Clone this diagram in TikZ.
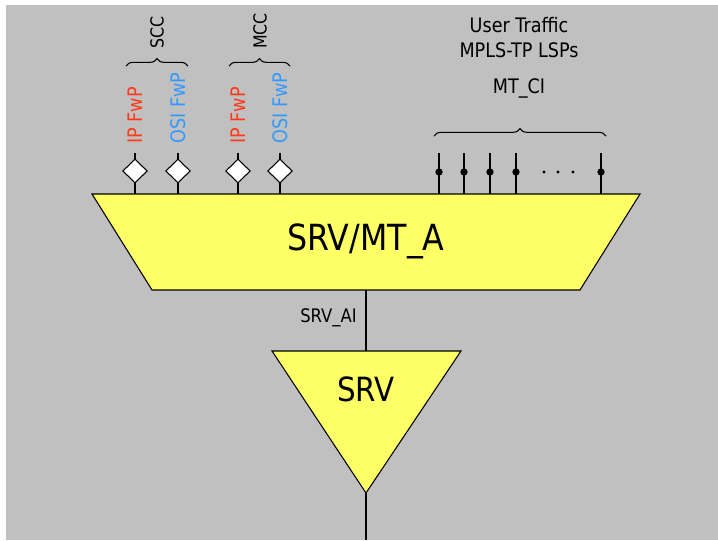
\documentclass[tikz,border=0pt]{standalone}
\usepackage{fontspec}
\setmainfont{DejaVu Sans}[FakeStretch=0.88]
\usetikzlibrary{shapes.geometric,decorations.pathreplacing}
\definecolor{bg}{HTML}{C0C0C0}
\definecolor{boxfill}{HTML}{FFFF66}
\definecolor{ipred}{HTML}{FF3A1A}
\definecolor{osiblue}{HTML}{3399FF}
\tikzset{
  px/.style={x=0.75pt,y=-0.75pt},
  ln/.style={draw=black,line width=0.8pt},
  fw/.style={rotate=90,anchor=west,inner sep=0pt,font=\fontsize{15}{17}\selectfont},
  dia/.style={diamond,draw=black,fill=white,line width=0.8pt,minimum width=18.5pt,minimum height=18pt,inner sep=0pt},
  brc/.style={ln,decorate,decoration={brace,amplitude=5.5pt}},
  lbl/.style={inner sep=0pt,font=\fontsize{15}{17}\selectfont},
  pindot/.style={circle,fill=black,inner sep=0pt,minimum size=5.5pt},
}
\begin{document}
\begin{tikzpicture}[px]
\useasboundingbox (0,0) rectangle (718,540);
\fill[white] (0,0) rectangle (718,540);
\fill[bg] (6,5) rectangle (718,540);
% trapezoid
\draw[ln,fill=boxfill] (92,194) -- (640,194) -- (580,290) -- (152,290) -- cycle;
\node[inner sep=0pt,font=\fontsize{27}{30}\selectfont] (mta) at (366,241) {SRV/MT\_A};
\coordinate (mtabot) at (366,290);
% SRV triangle
\draw[ln,fill=boxfill] (272,351) -- (461,351) -- (366,493) -- cycle;
\node[inner sep=0pt,font=\fontsize{25}{28}\selectfont] (srv) at (366,389) {SRV};
\coordinate (srvtop) at (366,351);
\coordinate (srvapex) at (366,493);
\coordinate (bottom) at (366,540);
\draw[ln] (mtabot) -- (srvtop);
\draw[ln] (srvapex) -- (bottom);
\node[lbl,anchor=east,font=\fontsize{14}{16}\selectfont] (ai) at (357,318) {SRV\_AI};
% diamonds
\foreach \x/\n in {135/a,178/b,238/c,280/d}{
  \coordinate (t\n) at (\x,153);
  \coordinate (b\n) at (\x,194);
  \draw[ln] (t\n) -- (b\n);
  \node[dia] (d\n) at (\x,171) {};
}
\node[fw,text=ipred] (ipa) at (135,144) {IP FwP};
\node[fw,text=osiblue] (osia) at (178,144) {OSI FwP};
\node[fw,text=ipred] (ipb) at (238,144) {IP FwP};
\node[fw,text=osiblue] (osib) at (280,144) {OSI FwP};
% braces
\coordinate (s1) at (126,66); \coordinate (s2) at (188,66);
\draw[brc] (s1) -- (s2);
\node[fw,text=black,font=\fontsize{13.5}{16}\selectfont] (scc) at (157,49) {SCC};
\coordinate (m1) at (229,66); \coordinate (m2) at (290,66);
\draw[brc] (m1) -- (m2);
\node[fw,text=black,font=\fontsize{13.5}{16}\selectfont] (mcc) at (260,49) {MCC};
% pins
\foreach \x/\n in {439/p,464/q,490/r,516/s,601/t}{
  \coordinate (t\n) at (\x,153);
  \coordinate (b\n) at (\x,194);
  \draw[ln] (t\n) -- (b\n);
  \node[pindot] (c\n) at (\x,172) {};
}
\foreach \x/\n in {544/u,558/v,573/w}{
  \node[circle,fill=black,inner sep=0pt,minimum size=2.6pt] (e\n) at (\x,172) {};
}
\coordinate (c1) at (434,136); \coordinate (c2) at (606,136);
\draw[brc] (c1) -- (c2);
\node[lbl] (mtci) at (519,88) {MT\_CI};
\node[lbl] (ut) at (519,25) {User Traffic};
\node[lbl] (lsp) at (519,50) {MPLS-TP LSPs};
\end{tikzpicture}
\end{document}
